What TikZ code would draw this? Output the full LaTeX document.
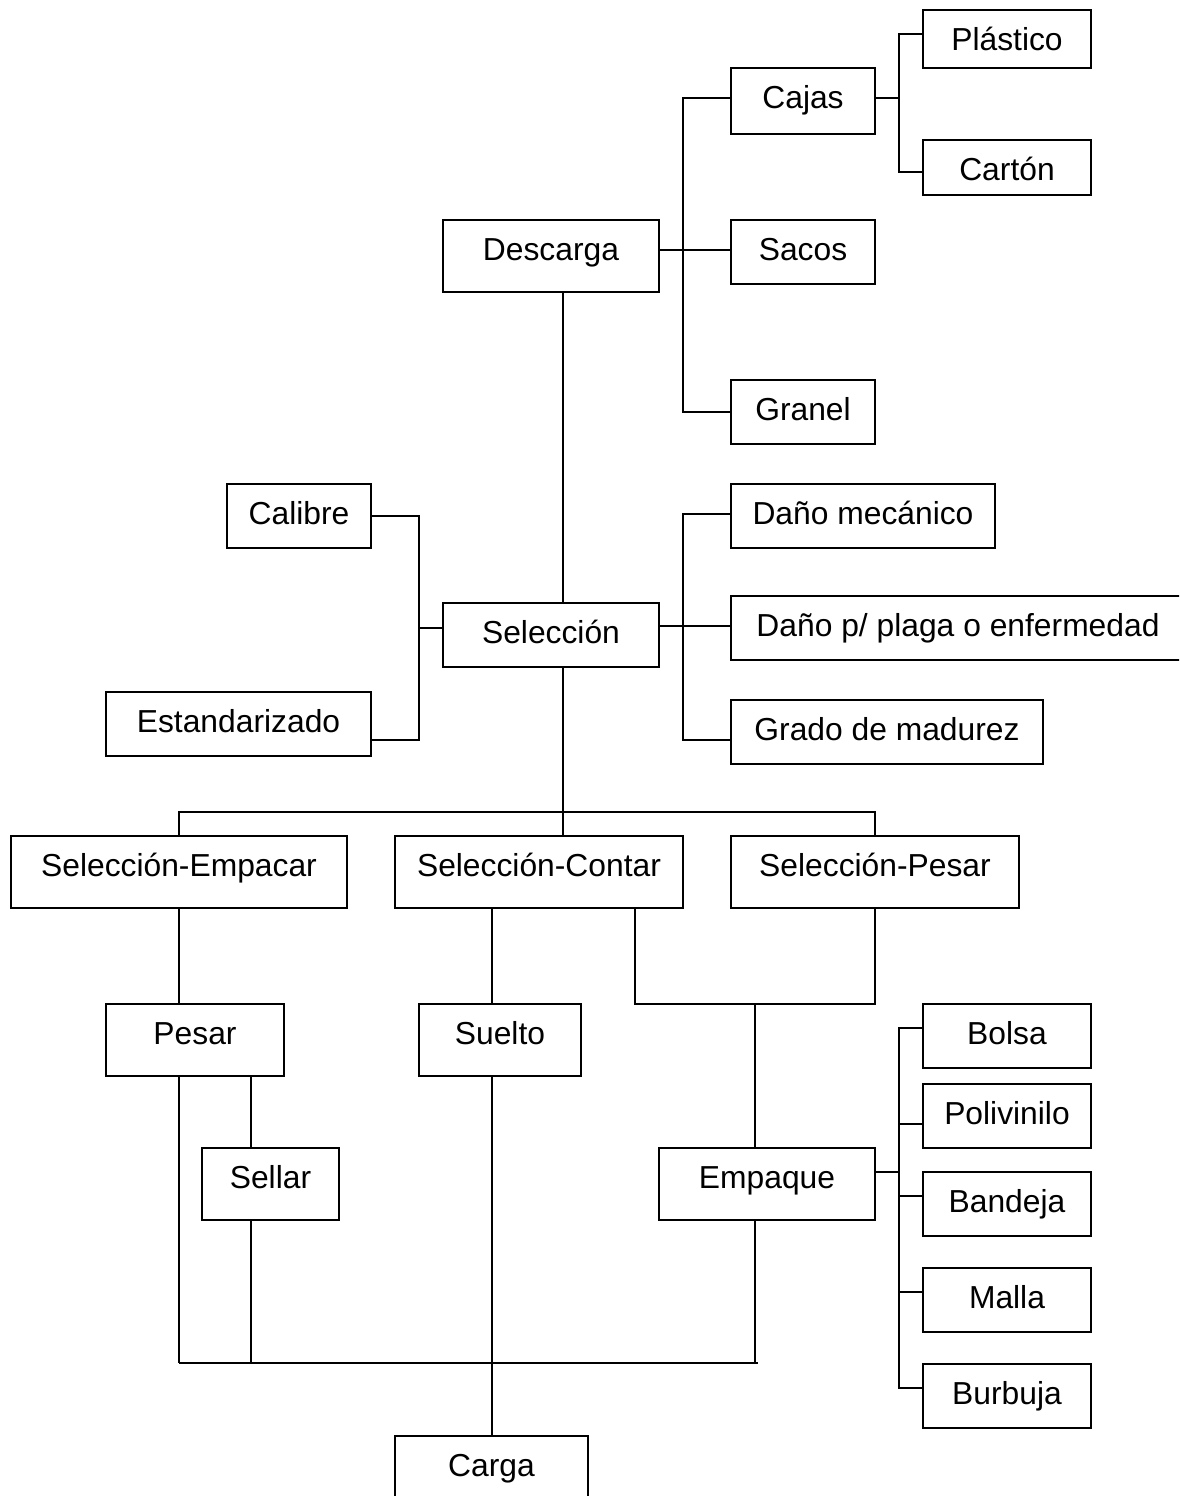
\documentclass[tikz,border=0pt]{standalone}
\usepackage{fontspec}
\setmainfont{Liberation Sans}
\begin{document}
\begin{tikzpicture}[
        x=1pt, y=-1pt,
        font=\fontsize{31.8}{36}\selectfont,
        box/.style={rectangle, draw, line width=2pt, anchor=north west, outer sep=0pt, inner ysep=2pt, inner xsep=6pt, text height=38.5pt, text depth=21.5pt},
        tall/.style={box, text depth=29.5pt},
        link/.style={line width=2pt}
    ]
    \clip (0,0) rectangle (1179,1496);

    \node[tall, minimum width=216pt] (descarga) at (443,220) {Descarga};
    \node[box, minimum width=144pt, text depth=23.5pt] (cajas) at (731,68) {Cajas};
    \node[box, minimum width=168pt, text depth=15.5pt] (plastico) at (923,10) {Plástico};
    \node[box, minimum width=168pt, text depth=12.5pt] (carton) at (923,140) {Cartón};
    \node[box, minimum width=144pt] (sacos) at (731,220) {Sacos};
    \node[box, minimum width=144pt] (granel) at (731,380) {Granel};

    \node[box, minimum width=144pt] (calibre) at (227,484) {Calibre};
    \node[box, minimum width=216pt] (seleccion) at (443,603) {Selección};
    \node[box, minimum width=265pt] (estandar) at (106,692) {Estandarizado};
    \node[box, minimum width=264pt] (danomec) at (731,484) {Daño mecánico};
    \node[box, minimum width=454pt] (danoplaga) at (731,596) {Daño p/ plaga o enfermedad};
    \node[box, minimum width=312pt] (grado) at (731,700) {Grado de madurez};

    \node[tall, minimum width=336pt] (selemp) at (11,836) {Selección-Empacar};
    \node[tall, minimum width=288pt] (selcon) at (395,836) {Selección-Contar};
    \node[tall, minimum width=288pt] (selpes) at (731,836) {Selección-Pesar};

    \node[tall, minimum width=178pt] (pesar) at (106,1004) {Pesar};
    \node[tall, minimum width=162pt] (suelto) at (419,1004) {Suelto};
    \node[tall, minimum width=137pt] (sellar) at (202,1148) {Sellar};
    \node[tall, minimum width=216pt] (empaque) at (659,1148) {Empaque};
    \node[tall, minimum width=193pt] (carga) at (395,1436) {Carga};

    \node[box, minimum width=168pt] (bolsa) at (923,1004) {Bolsa};
    \node[box, minimum width=168pt] (polivinilo) at (923,1084) {Polivinilo};
    \node[box, minimum width=168pt] (bandeja) at (923,1172) {Bandeja};
    \node[box, minimum width=168pt] (malla) at (923,1268) {Malla};
    \node[box, minimum width=168pt] (burbuja) at (923,1364) {Burbuja};

    \draw[link] ([yshift=-30pt]descarga.north east) -- ([yshift=-30pt]sacos.north west);
    \draw[link] ([yshift=-30pt]cajas.north west) -- ++(-48,0) |- ([yshift=-32pt]granel.north west);
    \draw[link] ([yshift=-30pt]cajas.north east) -- ++(24,0);
    \draw[link] ([yshift=-24pt]plastico.north west) -- ++(-24,0) |- ([yshift=-32pt]carton.north west);

    \draw[link] ([xshift=12pt]descarga.south) -- ([xshift=12pt]seleccion.north);
    \draw[link] ([yshift=-25pt]seleccion.north west) -- ++(-24,0);
    \draw[link] ([yshift=-32pt]calibre.north east) -- ++(48,0) |- ([yshift=-48pt]estandar.north east);
    \draw[link] ([yshift=-23pt]seleccion.north east) -- ([yshift=-30pt]danoplaga.north west);
    \draw[link] ([yshift=-30pt]danomec.north west) -- ++(-48,0) |- ([yshift=-40pt]grado.north west);

    \draw[link] ([xshift=12pt]seleccion.south) -- ([xshift=12pt]seleccion.south |- selcon.north);
    \draw[link] (selemp.north) -- ++(0,-24) -| (selpes.north);

    \draw[link] (selemp.south) -- (selemp.south |- pesar.north);
    \draw[link] (carga.north |- selcon.south) -- (carga.north |- suelto.north);
    \draw[link] (carga.north |- suelto.south) -- (carga.north);
    \coordinate (joint) at (selpes.south |- suelto.north);
    \draw[link] ([xshift=-48pt]selcon.south east) |- (joint) -- (selpes.south);
    \draw[link] ([xshift=-12pt]empaque.north) -- ([xshift=-12pt]empaque.north |- joint);

    \coordinate (lowleft) at (179,1363);
    \coordinate (lowright) at (758,1363);
    \draw[link] (lowleft) -- (lowright);
    \draw[link] (selemp.south |- pesar.south) -- (lowleft);
    \draw[link] ([xshift=-20pt]sellar.north) -- ([xshift=-20pt]sellar.north |- pesar.south);
    \draw[link] ([xshift=-20pt]sellar.south) -- ([xshift=-20pt]sellar.south |- lowleft);
    \draw[link] ([xshift=-12pt]empaque.south) -- ([xshift=-12pt]empaque.south |- lowleft);

    \draw[link] ([yshift=-24pt]empaque.north east) -- ++(24,0);
    \draw[link] ([yshift=-24pt]bolsa.north west) -- ++(-24,0) |- ([yshift=-24pt]burbuja.north west);
    \draw[link] ([yshift=-40pt]polivinilo.north west) -- ++(-24,0);
    \draw[link] ([yshift=-24pt]bandeja.north west) -- ++(-24,0);
    \draw[link] ([yshift=-24pt]malla.north west) -- ++(-24,0);

\end{tikzpicture}
\end{document}
